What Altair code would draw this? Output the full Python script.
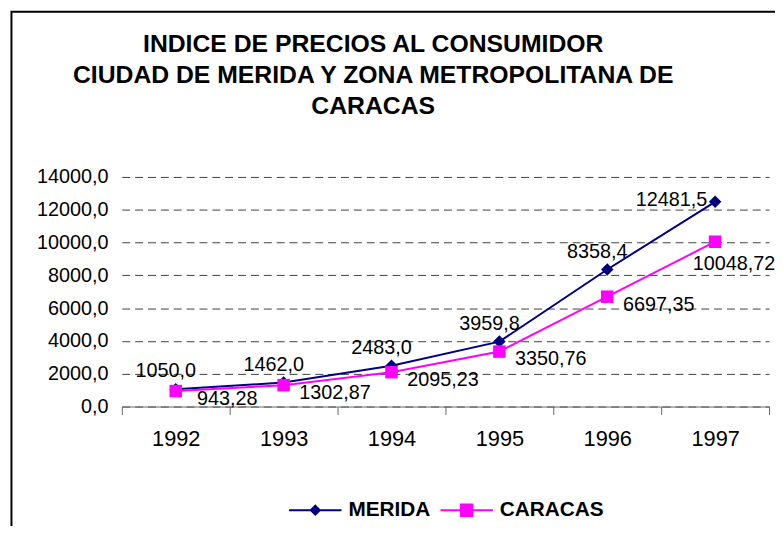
import altair as alt
import pandas as pd

# ---- data ----
years = ["1992", "1993", "1994", "1995", "1996", "1997"]
merida = [1050.0, 1462.0, 2483.0, 3959.8, 8358.4, 12481.5]
caracas = [943.28, 1302.87, 2095.23, 3350.76, 6697.35, 10048.72]
series_names = ["MERIDA", "CARACAS"]
label_decimals = [1, 2]
y_ticks = [0, 2000, 4000, 6000, 8000, 10000, 12000, 14000]
title_lines = [
    "INDICE DE PRECIOS AL CONSUMIDOR",
    "CIUDAD DE MERIDA Y ZONA METROPOLITANA DE",
    "CARACAS",
]

# ---- styles ----
FONT = "Liberation Sans"
series_colors = ["#000080", "#FF00FF"]
series_shapes = ["diamond", "square"]
legend_paths = [
    "M-1,0H1M0,-0.17L0.17,0L0,0.17L-0.17,0Z",
    "M-1,0H1M-0.22,-0.22H0.22V0.22H-0.22Z",
]
# label offsets: general points, and the last (edge) point of each series
label_dx = [-10, 52]
label_dy = [-18, 8]
last_dx = [-44, 19]
last_dy = [-2, 23]

rows = []
for name, vals, dec in zip(series_names, [merida, caracas], label_decimals):
    for yr, v in zip(years, vals):
        rows.append({
            "year": yr,
            "value": v,
            "series": name,
            "label": f"{v:.{dec}f}".replace(".", ","),
        })
df = pd.DataFrame(rows)
one = pd.DataFrame({"k": [0]})

x_enc = alt.X(
    "year:N",
    sort=years,
    scale=alt.Scale(type="band", paddingInner=0, paddingOuter=0),
    bandPosition=0.5,
    axis=alt.Axis(
        title=None, labelAngle=0, labelFont=FONT, labelFontSize=22,
        labelColor="black", labelPadding=14, tickSize=8, tickColor="#666666",
        domainColor="#666666", tickBand="extent", grid=False,
    ),
)
y_enc = alt.Y(
    "value:Q",
    scale=alt.Scale(domain=[0, 14000], nice=False, zero=True),
    axis=alt.Axis(
        title=None, values=y_ticks,
        labelExpr="replace(format(datum.value, '.1f'), '.', ',')",
        labelFont=FONT, labelFontSize=20, labelColor="black",
        domain=False, ticks=False, labelPadding=14,
        grid=True, gridDash=[8, 5], gridColor="#404040", gridWidth=1,
    ),
)

border = alt.Chart(one).mark_rect(
    fill="transparent", stroke="black", strokeWidth=2
).encode(
    x=alt.value(-111.5), x2=alt.value(900), y=alt.value(-167), y2=alt.value(700)
)

title = alt.Chart(one).mark_text(
    text=title_lines, font=FONT, fontSize=25, fontWeight="bold",
    lineHeight=31, align="center", baseline="top", color="black",
).encode(x=alt.value(254), y=alt.value(-146))

layers = [border, title]
last_year = years[-1]
for i, name in enumerate(series_names):
    base = alt.Chart(df).transform_filter(alt.datum.series == name)
    layers.append(
        base.mark_line(color=series_colors[i], strokeWidth=2).encode(x=x_enc, y=y_enc)
    )
    layers.append(
        base.mark_point(
            shape=series_shapes[i], filled=True, size=160,
            color=series_colors[i], opacity=1,
        ).encode(x=x_enc, y=y_enc)
    )
    layers.append(
        base.transform_filter(alt.datum.year != last_year).mark_text(
            font=FONT, fontSize=20, color="black", align="center",
            baseline="middle", dx=label_dx[i], dy=label_dy[i],
        ).encode(x=x_enc, y=y_enc, text="label:N")
    )
    layers.append(
        base.transform_filter(alt.datum.year == last_year).mark_text(
            font=FONT, fontSize=20, color="black", align="center",
            baseline="middle", dx=last_dx[i], dy=last_dy[i],
        ).encode(x=x_enc, y=y_enc, text="label:N")
    )

leg = alt.Legend(
    orient="none", legendX=168, legendY=309, direction="horizontal",
    title=None, symbolSize=2809, symbolStrokeWidth=2,
    labelFont=FONT, labelFontSize=21, labelFontWeight="bold",
    labelColor="black", labelOffset=6, columnPadding=6, padding=0,
)
legend_layer = alt.Chart(df).mark_point(filled=True, size=0, opacity=1).encode(
    x=x_enc,
    y=y_enc,
    color=alt.Color("series:N", sort=series_names,
                    scale=alt.Scale(domain=series_names, range=series_colors), legend=leg),
    stroke=alt.Stroke("series:N", sort=series_names,
                      scale=alt.Scale(domain=series_names, range=series_colors), legend=leg),
    shape=alt.Shape("series:N", sort=series_names,
                    scale=alt.Scale(domain=series_names, range=legend_paths), legend=leg),
)
layers.append(legend_layer)

chart = alt.layer(*layers).properties(
    width=654,
    height=232,
    autosize=alt.AutoSizeParams(type="none"),
    padding={"left": 115, "top": 168, "right": 6, "bottom": 118},
    background="white",
).configure_view(strokeWidth=0)

chart.save("out.html", embed_options={"renderer": "svg", "actions": False})
